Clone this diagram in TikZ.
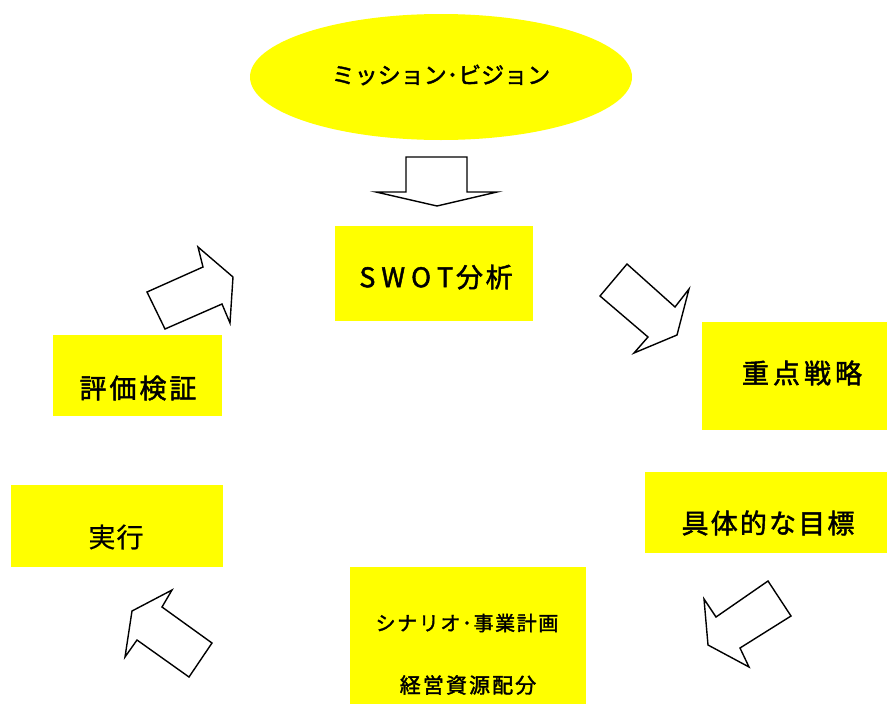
\documentclass[tikz,border=0pt]{standalone}
\usepackage{fontspec}
\usetikzlibrary{shapes.geometric}
\newfontfamily\jpmis[LetterSpace=0,FakeBold=1.7]{Noto Sans CJK JP}
\newfontfamily\jpswot[LetterSpace=10,FakeBold=1.7]{Noto Sans CJK JP}
\newfontfamily\jpjut[LetterSpace=15,FakeBold=1.7]{Noto Sans CJK JP}
\newfontfamily\jpgut[LetterSpace=8,FakeBold=1.7]{Noto Sans CJK JP}
\newfontfamily\jphyo[LetterSpace=11,FakeBold=1.7]{Noto Sans CJK JP}
\newfontfamily\jpscn[LetterSpace=8,FakeBold=1.7]{Noto Sans CJK JP}
\newfontfamily\jpkei[LetterSpace=10,FakeBold=1.7]{Noto Sans CJK JP}
\newfontfamily\jpjik[LetterSpace=4,FakeBold=0.5]{Noto Sans CJK JP}
\definecolor{ylw}{RGB}{255,255,0}
\tikzset{
  box/.style={fill=ylw, draw=none, inner sep=0pt},
  lbl/.style={inner sep=0pt, anchor=center, text=black},
  bigarrow/.style={draw=black, fill=white, line width=1.4pt, line join=miter}
}
\begin{document}
\begin{tikzpicture}[x=1pt,y=-1pt]
\path[use as bounding box] (0,0) rectangle (888,704);
% ellipse
\node[ellipse, box, minimum width=382pt, minimum height=126pt] (mission) at (441,77) {};
\node[lbl] (missiont) at (441,75) {\fontsize{23pt}{26pt}\jpmis ミッション･ビジョン};
% boxes
\node[box, minimum width=198pt, minimum height=95pt] (swot) at (434,273.5) {};
\node[lbl] (swott) at (436,277) {\fontsize{27pt}{30pt}\jpswot S\hspace{6pt}W\hspace{6pt}O\hspace{6pt}T分析};
\node[box, minimum width=185pt, minimum height=108pt] (juten) at (794.5,376) {};
\node[lbl] (jutent) at (802,373) {\fontsize{27pt}{30pt}\jpjut 重点戦略};
\node[box, minimum width=242pt, minimum height=81pt] (gutai) at (766,512.5) {};
\node[lbl] (gutait) at (768,523) {\fontsize{27pt}{30pt}\jpgut 具体的な目標};
\node[box, minimum width=236pt, minimum height=137pt] (scen) at (468,635.5) {};
\node[lbl] (scent1) at (467,623) {\fontsize{20pt}{23pt}\jpscn シナリオ･事業計画};
\node[lbl] (scent2) at (468,685) {\fontsize{21pt}{24pt}\jpkei 経営資源配分};
\node[box, minimum width=212pt, minimum height=82pt] (jikko) at (117,526) {};
\node[lbl] (jikkot) at (116,537) {\fontsize{27pt}{30pt}\jpjik 実行};
\node[box, minimum width=169pt, minimum height=81pt] (hyoka) at (137.5,375.5) {};
\node[lbl] (hyokat) at (138,388) {\fontsize{27pt}{30pt}\jphyo 評価検証};
% block arrows
\draw[bigarrow] (406,157) -- (467,157) -- (467,192) -- (497,192) -- (437,206) -- (376,192) -- (406,192) -- cycle;
\draw[bigarrow] (147,292) -- (203,267) -- (198,247) -- (233,277) -- (230,323) -- (222,304) -- (165,329) -- cycle;
\draw[bigarrow] (627,264) -- (600,296) -- (648,337) -- (634,353) -- (677,335) -- (689,289) -- (675,307) -- cycle;
\draw[bigarrow] (768,581) -- (791,616) -- (740,648) -- (749,667) -- (708,645) -- (704,599) -- (716,617) -- cycle;
\draw[bigarrow] (172,590) -- (162,607) -- (212,643) -- (189,677) -- (137,640) -- (125,657) -- (132,611) -- cycle;
\end{tikzpicture}
\end{document}
